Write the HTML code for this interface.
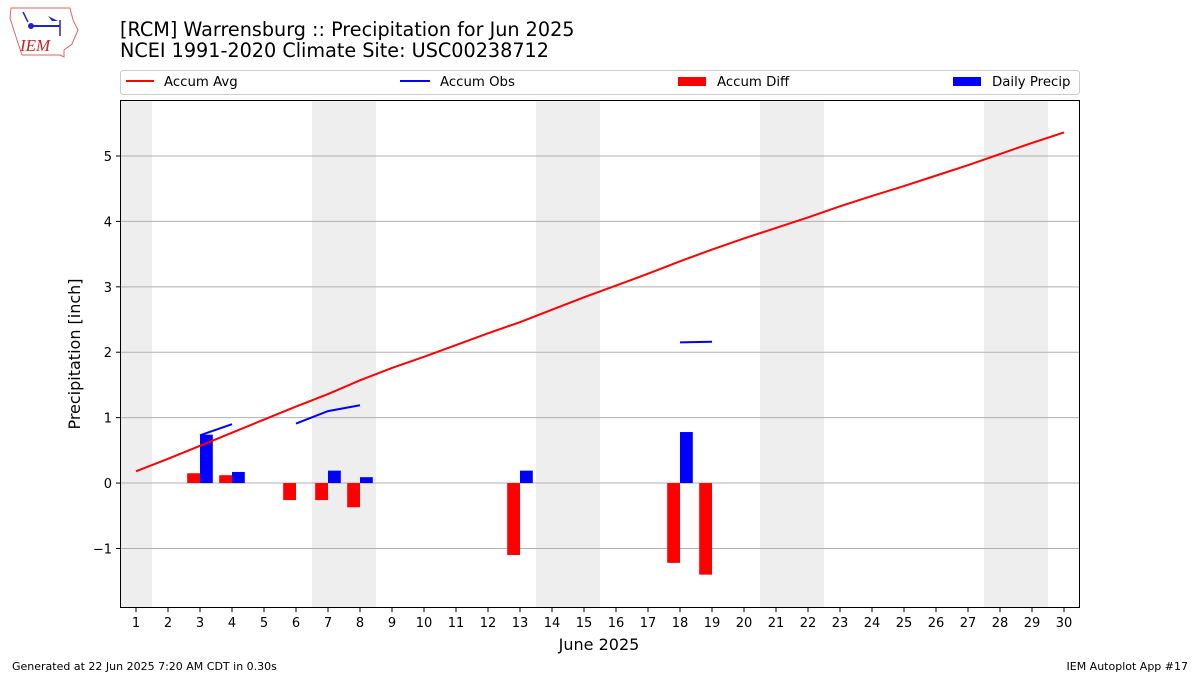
<!DOCTYPE html>
<html><head><meta charset="utf-8"><style>
body{margin:0;background:#fff;font-family:"Liberation Sans","DejaVu Sans",sans-serif;}
</style></head><body>
<svg width="1200" height="675" xmlns="http://www.w3.org/2000/svg" font-family="DejaVu Sans, Liberation Sans, sans-serif">
<g>
<path d="M11 8 L70 8 L73 20 L78 30 L72 44 L64 50 L64 57 L60 55 L22 55 L17 40 L10 18 Z" fill="#fff" stroke="#d66" stroke-width="1"/>
<line x1="31" y1="26" x2="60" y2="26" stroke="#22c" stroke-width="2"/>
<circle cx="31" cy="26" r="3" fill="#22c"/>
<path d="M48 16 L58 21 L52 21 Z" fill="#22c"/>
<line x1="60" y1="20" x2="60" y2="36" stroke="#22c" stroke-width="1.5"/>
<line x1="23" y1="12" x2="28" y2="22" stroke="#22c" stroke-width="1.5"/>
<text x="20" y="51" font-family="Liberation Serif,serif" font-style="italic" font-size="17" fill="#c22">IEM</text>
</g>
<text x="120" y="36" font-size="19.2">[RCM] Warrensburg :: Precipitation for Jun 2025</text>
<text x="120" y="57" font-size="19.2">NCEI 1991-2020 Climate Site: USC00238712</text>
<g>
<rect x="120.5" y="70.5" width="959" height="24" rx="3" fill="#fff" stroke="#ccc"/>
<line x1="126" y1="81" x2="154" y2="81" stroke="red" stroke-width="2"/>
<text x="164" y="86" font-size="13.3">Accum Avg</text>
<line x1="400" y1="81" x2="430" y2="81" stroke="blue" stroke-width="2"/>
<text x="440" y="86" font-size="13.3">Accum Obs</text>
<rect x="678" y="77" width="28" height="9" fill="red"/>
<text x="717" y="86" font-size="13.3">Accum Diff</text>
<rect x="953" y="77" width="28" height="9" fill="blue"/>
<text x="992" y="86" font-size="13.3">Daily Precip</text>
</g>
<g id="plot"></g>
<text x="599" y="650" font-size="16" text-anchor="middle">June 2025</text>
<text transform="translate(80,354) rotate(-90)" font-size="16" text-anchor="middle">Precipitation [inch]</text>
<text x="12" y="670" font-size="11">Generated at 22 Jun 2025 7:20 AM CDT in 0.30s</text>
<text x="1188" y="670" font-size="11" text-anchor="end">IEM Autoplot App #17</text>
</svg>
<script>
const days=[1,2,3,4,5,6,7,8,9,10,11,12,13,14,15,16,17,18,19,20,21,22,23,24,25,26,27,28,29,30];
const accumAvg=[0.18,0.37,0.57,0.77,0.97,1.17,1.36,1.57,1.76,1.93,2.11,2.29,2.46,2.65,2.84,3.02,3.2,3.39,3.57,3.74,3.9,4.06,4.23,4.39,4.54,4.7,4.86,5.03,5.2,5.36];
const accumObs=[null,null,0.73,0.90,null,0.91,1.10,1.19,null,null,null,null,null,null,null,null,null,2.15,2.16,null,null,null,null,null,null,null,null,null,null,null];
const dailyPrecip=[0,0,0.74,0.17,0,0,0.19,0.09,0,0,0,0,0.19,0,0,0,0,0.78,0,0,0,0,0,0,0,0,0,0,0,0];
const accumDiff=[0,0,0.15,0.12,0,-0.26,-0.26,-0.37,0,0,0,0,-1.10,0,0,0,0,-1.22,-1.40,0,0,0,0,0,0,0,0,0,0,0];
const weekends=[1,7,8,14,15,21,22,28,29];
const yTicks=[-1,0,1,2,3,4,5];
const yTickLabels=["\u22121","0","1","2","3","4","5"];
const X0=120,X1=1080,Y0=100,Y1=608,YMIN=-1.91,YMAX=5.856;
const x=d=>X0+(d-0.5)*(X1-X0)/30;
const y=v=>Y1-(v-YMIN)*(Y1-Y0)/(YMAX-YMIN);
const NS="http://www.w3.org/2000/svg",g=document.getElementById('plot');
function mk(t,a){const e=document.createElementNS(NS,t);for(const k in a)e.setAttribute(k,a[k]);g.appendChild(e);return e;}
weekends.forEach(d=>{const e=mk('rect',{x:x(d-0.5),y:Y0,width:x(d+0.5)-x(d-0.5),height:Y1-Y0,fill:'#eee'});

});
yTicks.forEach((v,i)=>{const l=mk('line',{x1:X0,x2:X1,y1:y(v),y2:y(v),stroke:'#b0b0b0'});


mk('line',{x1:X0-4,x2:X0,y1:y(v),y2:y(v),stroke:'#000'});
const t=mk('text',{x:X0-8,y:y(v)+5,'font-size':13,'text-anchor':'end'});t.textContent=yTickLabels[i];

});
const bw=0.4*(X1-X0)/30;
days.forEach((d,i)=>{
if(accumDiff[i]!==0){const v=accumDiff[i];const r=mk('rect',{x:x(d-0.2)-bw/2,y:Math.min(y(v),y(0)),width:bw,height:Math.abs(y(v)-y(0)),fill:'red'});

}
if(dailyPrecip[i]!==0){const v=dailyPrecip[i];const r=mk('rect',{x:x(d+0.2)-bw/2,y:y(v),width:bw,height:y(0)-y(v),fill:'blue'});

}
mk('line',{x1:x(d),x2:x(d),y1:Y1,y2:Y1+4,stroke:'#000'});
const t=mk('text',{x:x(d),y:Y1+19,'font-size':13,'text-anchor':'middle'});t.textContent=d;

});
const avg=mk('polyline',{points:days.map((d,i)=>x(d)+','+y(accumAvg[i])).join(' '),fill:'none',stroke:'red','stroke-width':2});


let seg=[];const segs=[];
days.forEach((d,i)=>{if(accumObs[i]===null){if(seg.length)segs.push(seg);seg=[];}else seg.push(x(d)+','+y(accumObs[i]));});
if(seg.length)segs.push(seg);
segs.forEach(s=>{const p=mk('polyline',{points:s.join(' '),fill:'none',stroke:'blue','stroke-width':2});

});
const fr=mk('rect',{x:X0+0.5,y:Y0+0.5,width:X1-X0-1,height:Y1-Y0-1,fill:'none',stroke:'#000'});


</script>
</body></html>
